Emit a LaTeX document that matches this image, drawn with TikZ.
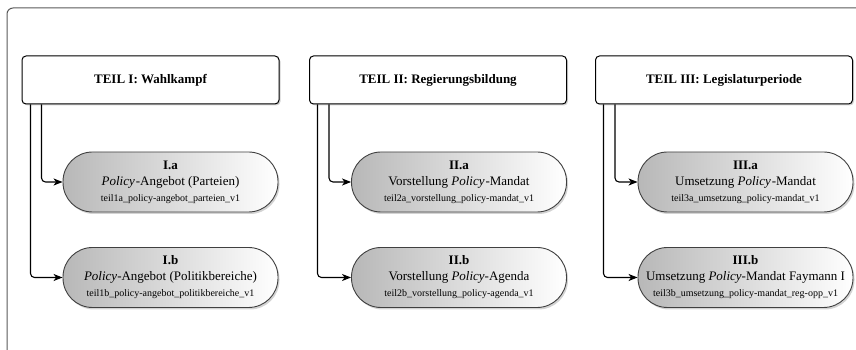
\documentclass[tikz,border=0pt]{standalone}
\usepackage{fontspec}
\setmainfont{Liberation Serif}
\usetikzlibrary{shadows,arrows.meta}
\definecolor{framegray}{rgb}{0.35,0.35,0.35}
\definecolor{shadeleft}{rgb}{0.72,0.72,0.72}
\tikzset{
  x=1pt,y=1pt,
  header/.style={draw=black, line width=1pt, fill=white, rounded corners=4pt,
    minimum width=257pt, minimum height=48pt, inner sep=0pt,
    font=\fontsize{13}{15}\selectfont\bfseries,
    drop shadow={shadow xshift=1.5pt, shadow yshift=-1.5pt, opacity=0.35}},
  pnode/.style={draw=black!75, line width=0.9pt, rounded corners=29.5pt,
    left color=shadeleft, right color=white, shading angle=90,
    minimum width=215pt, minimum height=60pt, inner sep=0pt, align=center,
    font=\fontsize{13}{17}\selectfont,
    drop shadow={shadow xshift=1.5pt, shadow yshift=-2pt, opacity=0.35}},
  conn/.style={draw=black, line width=1.1pt, rounded corners=4pt,
    -{Stealth[length=9pt,width=7pt,inset=2.5pt]}},
  small/.style={}
}
\newcommand{\fname}[1]{\\[-1pt]{\fontsize{10}{12}\selectfont #1}}
\begin{document}
\begin{tikzpicture}
\useasboundingbox (0,0) rectangle (856,350);
\begin{scope}
\clip (0,0) rectangle (856,350);
\draw[framegray, line width=1pt, rounded corners=6pt] (7,342) rectangle (880,-20);
\end{scope}

\node[header] (h1) at (150.5,270) {TEIL I: Wahlkampf};
\node[header] (h2) at (438,270) {TEIL II: Regierungsbildung};
\node[header] (h3) at (724,270) {TEIL III: Legislaturperiode};

\node[pnode] (a1) at (170.5,168) {\textbf{I.a}\\[-1pt]\textit{Policy}\kern1pt-Angebot (Parteien)\fname{teil1a\_policy-angebot\_parteien\_v1}};
\node[pnode] (b1) at (170.5,72.5) {\textbf{I.b}\\[-1pt]{\itshape Policy}-Angebot (Politikbereiche)\fname{teil1b\_policy-angebot\_politikbereiche\_v1}};

\node[pnode] (a2) at (459,168) {\textbf{II.a}\\[-1pt]Vorstellung \textit{Policy}\kern1pt-Mandat\fname{teil2a\_vorstellung\_policy-mandat\_v1}};
\node[pnode] (b2) at (459,72.5) {\textbf{II.b}\\[-1pt]Vorstellung {\itshape Policy}-Agenda\fname{teil2b\_vorstellung\_policy-agenda\_v1}};

\node[pnode] (a3) at (745.5,168) {\textbf{III.a}\\[-1pt]Umsetzung \textit{Policy}\kern1pt-Mandat\fname{teil3a\_umsetzung\_policy-mandat\_v1}};
\node[pnode] (b3) at (745.5,72.5) {\textbf{III.b}\\[-1pt]Umsetzung {\itshape Policy}-Mandat Faymann I\fname{teil3b\_umsetzung\_policy-mandat\_reg-opp\_v1}};

\draw[conn] ([xshift=20pt]h1.south west) |- (a1.west);
\draw[conn] ([xshift=9pt]h1.south west) |- (b1.west);
\draw[conn] ([xshift=20pt]h2.south west) |- (a2.west);
\draw[conn] ([xshift=8.5pt]h2.south west) |- (b2.west);
\draw[conn] ([xshift=20pt]h3.south west) |- (a3.west);
\draw[conn] ([xshift=8.5pt]h3.south west) |- (b3.west);
\end{tikzpicture}
\end{document}
